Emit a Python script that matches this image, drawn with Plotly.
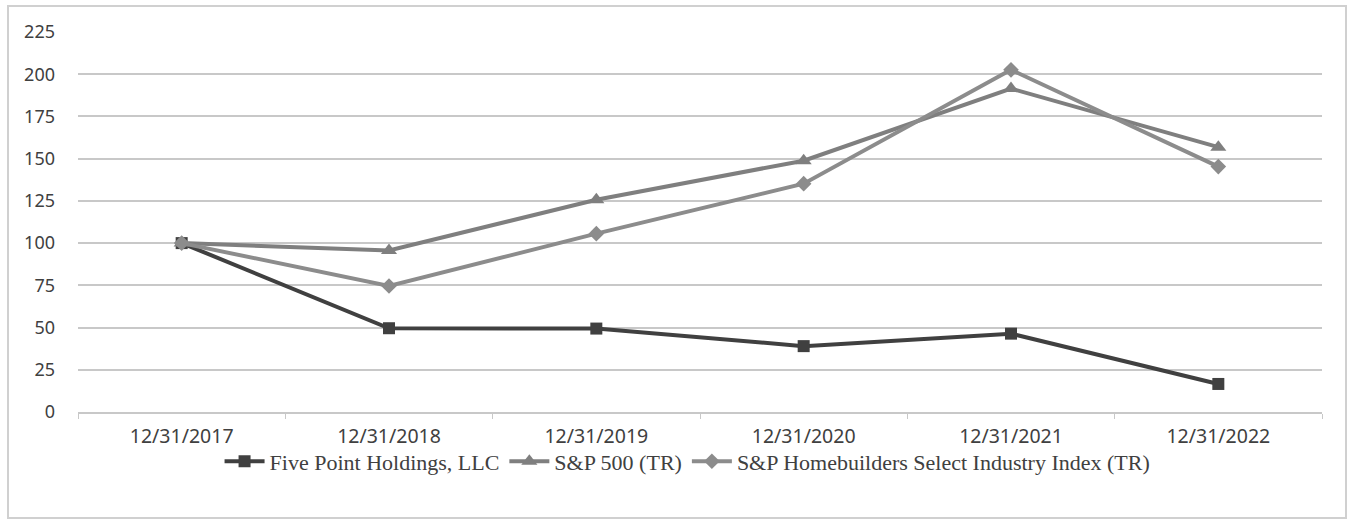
import plotly.graph_objects as go

dates = ["12/31/2017", "12/31/2018", "12/31/2019", "12/31/2020", "12/31/2021", "12/31/2022"]
five_point = [100, 49.6, 49.4, 39.0, 46.4, 16.6]
sp500 = [100, 95.6, 125.7, 148.8, 191.5, 156.8]
homebuilders = [100, 74.6, 105.6, 135.2, 202.6, 145.3]

fig = go.Figure()
fig.add_trace(go.Scatter(
    x=dates, y=five_point, name="Five Point Holdings, LLC", mode="lines+markers",
    line=dict(color="#404040", width=4),
    marker=dict(symbol="square", size=12, color="#404040"),
))
fig.add_trace(go.Scatter(
    x=dates, y=sp500, name="S&P 500 (TR)", mode="lines+markers",
    line=dict(color="#7f7f7f", width=4),
    marker=dict(symbol="triangle-up", size=14, color="#7f7f7f"),
))
fig.add_trace(go.Scatter(
    x=dates, y=homebuilders, name="S&P Homebuilders Select Industry Index (TR)", mode="lines+markers",
    line=dict(color="#8c8c8c", width=4),
    marker=dict(symbol="diamond", size=12, color="#8c8c8c"),
))

y_font = dict(family="Noto Sans", size=18, color="#404040")
x_font = dict(family="Noto Sans", size=19.5, color="#404040")

fig.update_layout(
    width=1349, height=521,
    margin=dict(l=78, r=27, t=32, b=109),
    paper_bgcolor="white", plot_bgcolor="white",
    font=y_font,
    showlegend=True,
    legend=dict(
        orientation="h", x=0.49, xanchor="center", y=-0.13, yanchor="middle",
        bgcolor="rgba(0,0,0,0)",
        font=dict(family="Liberation Serif", size=22, color="#404040"),
        itemwidth=40, tracegroupgap=0,
    ),
    xaxis=dict(
        type="category", showgrid=False, showline=True, linecolor="#c8c8c8", linewidth=1.5,
        ticks="outside", tickson="boundaries", ticklen=5, tickcolor="#c8c8c8",
        tickfont=x_font, ticklabelstandoff=6,
        range=[-0.5, 5.5],
    ),
    yaxis=dict(
        range=[0, 225], dtick=25, showgrid=True, gridcolor="#c8c8c8", gridwidth=1.5,
        zeroline=False, showline=False, ticks="",
        tickfont=y_font, ticklabelstandoff=22,
    ),
    shapes=[dict(
        type="rect", xref="paper", yref="paper",
        x0=(8 - 78) / 1244, x1=(1346 - 78) / 1244,
        y0=(412 - 518) / 380, y1=(412 - 6) / 380,
        line=dict(color="#d0d0d0", width=2), fillcolor="rgba(0,0,0,0)", layer="below",
    )],
)

fig.write_html("out.html")
